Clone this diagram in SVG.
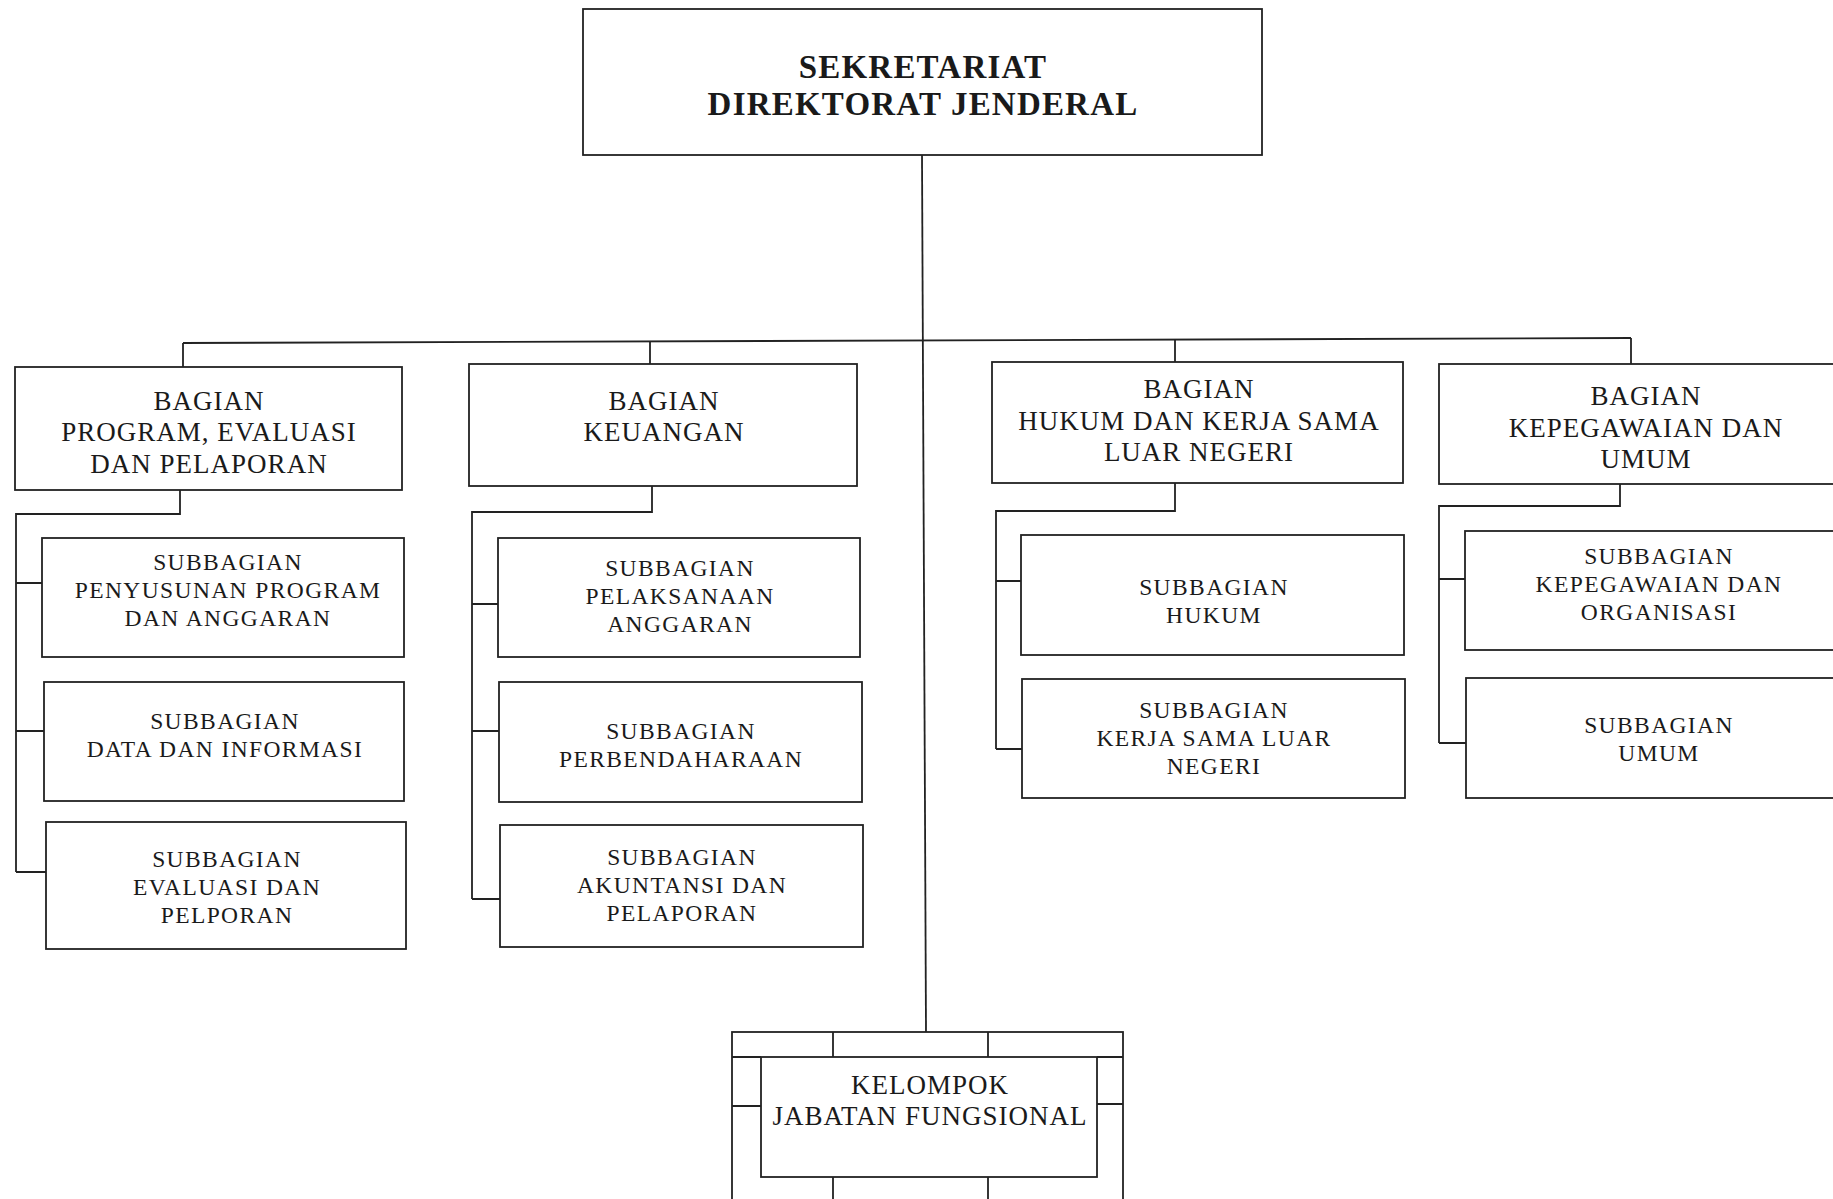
<svg xmlns="http://www.w3.org/2000/svg" width="1833" height="1199" viewBox="0 0 1833 1199">
<style>
rect.box{fill:#fff;stroke:#222;stroke-width:1.8}
.c{fill:none;stroke:#222;stroke-width:1.8}
text{font-family:"Liberation Serif","Times New Roman",serif;fill:#1a1a1a;text-anchor:middle}
.t{font-size:33px;font-weight:bold;letter-spacing:1.2px}
.b{font-size:27px;letter-spacing:1px}
.s{font-size:23.5px;letter-spacing:1.4px}
</style>
<rect width="1833" height="1199" fill="#fff"/>
<g id="connectors">
<path class="c" d="M922 155 L926 1032"/>
<path class="c" d="M183 343 L1631 338"/>
<path class="c" d="M183 343 V367 M650 341 V364 M1175 339.5 V362 M1631 338 V364"/>
<path class="c" d="M180 490 V514 H16 V872 M16 583 H42 M16 731 H44 M16 872 H46"/>
<path class="c" d="M652 486 V512 H472 V899 M472 604 H498 M472 731 H499 M472 899 H500"/>
<path class="c" d="M1175 483 V511 H996 V749 M996 581 H1021 M996 749 H1022"/>
<path class="c" d="M1620 484 V506 H1439 V743 M1439 579 H1465 M1439 743 H1466"/>
</g>
<g id="sekretariat">
<rect class="box" x="583" y="9" width="679" height="146"/>
<text class="t" x="923" y="78">SEKRETARIAT</text>
<text class="t" x="923" y="115">DIREKTORAT JENDERAL</text>
</g>
<g id="bagian-program">
<rect class="box" x="15" y="367" width="387" height="123"/>
<text class="b" x="209" y="410">BAGIAN</text>
<text class="b" x="209" y="441">PROGRAM, EVALUASI</text>
<text class="b" x="209" y="473">DAN PELAPORAN</text>
</g>
<g id="sub-penyusunan">
<rect class="box" x="42" y="538" width="362" height="119"/>
<text class="s" x="228" y="570">SUBBAGIAN</text>
<text class="s" x="228" y="598">PENYUSUNAN PROGRAM</text>
<text class="s" x="228" y="626">DAN ANGGARAN</text>
</g>
<g id="sub-data">
<rect class="box" x="44" y="682" width="360" height="119"/>
<text class="s" x="225" y="729">SUBBAGIAN</text>
<text class="s" x="225" y="757">DATA DAN INFORMASI</text>
</g>
<g id="sub-evaluasi">
<rect class="box" x="46" y="822" width="360" height="127"/>
<text class="s" x="227" y="867">SUBBAGIAN</text>
<text class="s" x="227" y="895">EVALUASI DAN</text>
<text class="s" x="227" y="923">PELPORAN</text>
</g>
<g id="bagian-keuangan">
<rect class="box" x="469" y="364" width="388" height="122"/>
<text class="b" x="664" y="410">BAGIAN</text>
<text class="b" x="664" y="441">KEUANGAN</text>
</g>
<g id="sub-pelaksanaan">
<rect class="box" x="498" y="538" width="362" height="119"/>
<text class="s" x="680" y="576">SUBBAGIAN</text>
<text class="s" x="680" y="604">PELAKSANAAN</text>
<text class="s" x="680" y="632">ANGGARAN</text>
</g>
<g id="sub-perbendaharaan">
<rect class="box" x="499" y="682" width="363" height="120"/>
<text class="s" x="681" y="739">SUBBAGIAN</text>
<text class="s" x="681" y="767">PERBENDAHARAAN</text>
</g>
<g id="sub-akuntansi">
<rect class="box" x="500" y="825" width="363" height="122"/>
<text class="s" x="682" y="865">SUBBAGIAN</text>
<text class="s" x="682" y="893">AKUNTANSI DAN</text>
<text class="s" x="682" y="921">PELAPORAN</text>
</g>
<g id="bagian-hukum">
<rect class="box" x="992" y="362" width="411" height="121"/>
<text class="b" x="1199" y="398">BAGIAN</text>
<text class="b" x="1199" y="430">HUKUM DAN KERJA SAMA</text>
<text class="b" x="1199" y="461">LUAR NEGERI</text>
</g>
<g id="sub-hukum">
<rect class="box" x="1021" y="535" width="383" height="120"/>
<text class="s" x="1214" y="595">SUBBAGIAN</text>
<text class="s" x="1214" y="623">HUKUM</text>
</g>
<g id="sub-kerjasama">
<rect class="box" x="1022" y="679" width="383" height="119"/>
<text class="s" x="1214" y="718">SUBBAGIAN</text>
<text class="s" x="1214" y="746">KERJA SAMA LUAR</text>
<text class="s" x="1214" y="774">NEGERI</text>
</g>
<g id="bagian-kepegawaian">
<rect class="box" x="1439" y="364" width="410" height="120"/>
<text class="b" x="1646" y="405">BAGIAN</text>
<text class="b" x="1646" y="437">KEPEGAWAIAN DAN</text>
<text class="b" x="1646" y="468">UMUM</text>
</g>
<g id="sub-kepegawaian">
<rect class="box" x="1465" y="531" width="384" height="119"/>
<text class="s" x="1659" y="564">SUBBAGIAN</text>
<text class="s" x="1659" y="592">KEPEGAWAIAN DAN</text>
<text class="s" x="1659" y="620">ORGANISASI</text>
</g>
<g id="sub-umum">
<rect class="box" x="1466" y="678" width="384" height="120"/>
<text class="s" x="1659" y="733">SUBBAGIAN</text>
<text class="s" x="1659" y="761">UMUM</text>
</g>
<g id="kelompok-jabatan">
<rect class="box" x="732" y="1032" width="391" height="180"/>
<rect class="box" x="761" y="1057" width="336" height="120"/>
<path class="c" d="M732 1057 H761 M1097 1057 H1123 M732 1106 H761 M1097 1104 H1123 M833 1032 V1057 M988 1032 V1057 M833 1177 V1212 M988 1177 V1212"/>
<text class="b" x="930" y="1094">KELOMPOK</text>
<text class="b" x="930" y="1125">JABATAN FUNGSIONAL</text>
</g>
</svg>
